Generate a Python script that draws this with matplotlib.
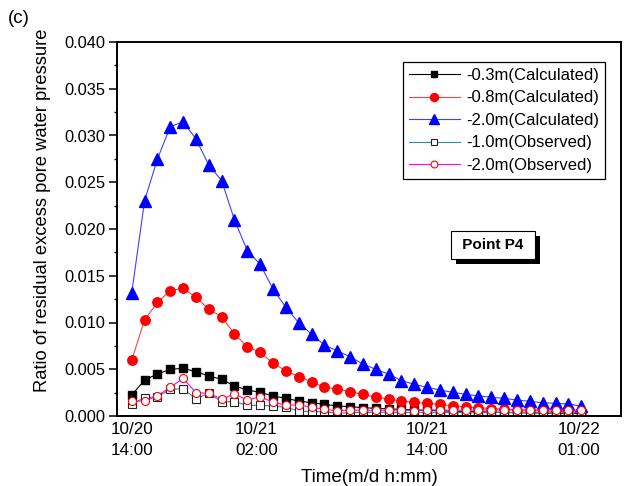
import matplotlib
matplotlib.use("Agg")
import matplotlib.pyplot as plt
import matplotlib.patheffects as pe
import numpy as np

plt.rcParams['font.family'] = ['Liberation Sans', 'DejaVu Sans']

# hourly time index from 10/20 14:00 to 10/22 01:00
hours = list(range(36))

calc_03 = [0.00225, 0.00385, 0.00449, 0.00499, 0.00510, 0.00474, 0.00428, 0.00392, 0.00321,
           0.00278, 0.00253, 0.00214, 0.00189, 0.00160, 0.00142, 0.00125, 0.00107, 0.00100,
           0.00089, 0.00082, 0.00076, 0.00070, 0.00065, 0.00060, 0.00056, 0.00052, 0.00048,
           0.00045, 0.00042, 0.00039, 0.00036, 0.00034, 0.00032, 0.00030, 0.00028, 0.00026]
calc_08 = [0.00599, 0.01027, 0.01216, 0.01340, 0.01366, 0.01269, 0.01141, 0.01062, 0.00877,
           0.00741, 0.00681, 0.00564, 0.00484, 0.00420, 0.00367, 0.00307, 0.00289, 0.00260,
           0.00232, 0.00200, 0.00182, 0.00160, 0.00146, 0.00136, 0.00125, 0.00107, 0.00096,
           0.00088, 0.00080, 0.00073, 0.00066, 0.00060, 0.00055, 0.00050, 0.00046, 0.00042]
calc_20 = [0.01319, 0.02303, 0.02749, 0.03094, 0.03148, 0.02963, 0.02684, 0.02517, 0.02096,
           0.01768, 0.01622, 0.01358, 0.01163, 0.00998, 0.00874, 0.00759, 0.00698, 0.00634,
           0.00556, 0.00499, 0.00449, 0.00378, 0.00339, 0.00307, 0.00278, 0.00253, 0.00232,
           0.00214, 0.00200, 0.00189, 0.00171, 0.00157, 0.00142, 0.00136, 0.00128, 0.00107]
obs_10 = [0.00128, 0.00196, 0.00206, 0.00286, 0.00292, 0.00182, 0.00243, 0.00153, 0.00153,
          0.00114, 0.00114, 0.00107, 0.00093, 0.00053, 0.00046, 0.00046, 0.00029, 0.00035,
          0.00040, 0.00038, 0.00042, 0.00036, 0.00040, 0.00038, 0.00035, 0.00040, 0.00037,
          0.00036, 0.00039, 0.00035, 0.00037, 0.00036, 0.00034, 0.00035, 0.00033, 0.00034]
obs_20 = [0.00160, 0.00160, 0.00217, 0.00307, 0.00403, 0.00249, 0.00243, 0.00182, 0.00235,
          0.00171, 0.00206, 0.00147, 0.00118, 0.00118, 0.00093, 0.00072, 0.00055, 0.00066,
          0.00060, 0.00062, 0.00060, 0.00064, 0.00058, 0.00066, 0.00064, 0.00062, 0.00065,
          0.00063, 0.00066, 0.00064, 0.00068, 0.00062, 0.00068, 0.00066, 0.00061, 0.00064]

xtick_pos = [0, 9.7, 23, 34.8]
xtick_labels = ["10/20\n14:00", "10/21\n02:00", "10/21\n14:00", "10/22\n01:00"]

labels = ["-0.3m(Calculated)", "-0.8m(Calculated)", "-2.0m(Calculated)",
          "-1.0m(Observed)", "-2.0m(Observed)"]

fig = plt.figure(figsize=(6.37, 4.86), dpi=100)
ax = fig.add_axes([117/637, 1-416/486, (621-117)/637, (416-42)/486])

lw = 0.8
ax.plot(hours, calc_03, color='black', lw=lw, marker='s', ms=5.8, mfc='black', mec='black', label=labels[0])
ax.plot(hours, calc_08, color='#ff4040', lw=lw, marker='o', ms=6.8, mfc='red', mec='red', label=labels[1])
ax.plot(hours, calc_20, color='#4040ff', lw=lw, marker='^', ms=8.8, mfc='blue', mec='blue', label=labels[2])
ax.plot(hours, obs_10, color='#2a9090', lw=lw, marker='s', ms=5.2, mfc='white', mec='#222222', mew=0.8, label=labels[3])
ax.plot(hours, obs_20, color='#ff00ff', lw=lw, marker='o', ms=5.8, mfc='white', mec='red', mew=0.8, label=labels[4])

ax.set_xlim(-1.15, 38.1)
ax.set_ylim(0, 0.040)
ax.set_yticks(np.arange(0, 0.0401, 0.005))
ax.set_yticks(np.arange(0.0025, 0.040, 0.005), minor=True)
ax.yaxis.set_major_formatter(matplotlib.ticker.FormatStrFormatter('%.3f'))
ax.set_xticks(xtick_pos)
ax.set_xticklabels(xtick_labels, fontsize=12.3, linespacing=1.45)
ax.tick_params(axis='x', length=0, pad=4.5)
ax.tick_params(axis='y', which='major', direction='out', length=5.5, width=1.1, labelsize=11.8, pad=3)
ax.tick_params(axis='y', which='minor', direction='out', length=2.5, width=1.0)
for s in ax.spines.values():
    s.set_linewidth(1.4)

ax.set_xlabel("Time(m/d h:mm)", fontsize=13.5, labelpad=8)
ax.set_ylabel("Ratio of residual excess pore water pressure", fontsize=13.2)
ax.yaxis.set_label_coords(-0.131, 0.551)

leg = ax.legend(loc='upper right', bbox_to_anchor=(0.968, 0.9465), fontsize=12,
                frameon=True, fancybox=False, edgecolor='black', framealpha=1,
                handlelength=3.1, handletextpad=0.35, labelspacing=0.45, borderpad=0.35,
                borderaxespad=0, markerscale=0.85)
leg.get_frame().set_linewidth(0.9)

t = ax.text(0.746, 0.457, " Point P4 ", transform=ax.transAxes, fontsize=11, fontweight='bold',
            ha='center', va='center',
            bbox=dict(boxstyle='square,pad=0.45', fc='white', ec='black', lw=0.8))
t.get_bbox_patch().set_path_effects([pe.SimplePatchShadow(offset=(3.5, -3.5), shadow_rgbFace='black', alpha=1.0),
                                     pe.Normal()])

fig.text(8/637, 1-10/486, "(c)", fontsize=13.5, ha='left', va='top')

fig.savefig("out.png", dpi=100)
